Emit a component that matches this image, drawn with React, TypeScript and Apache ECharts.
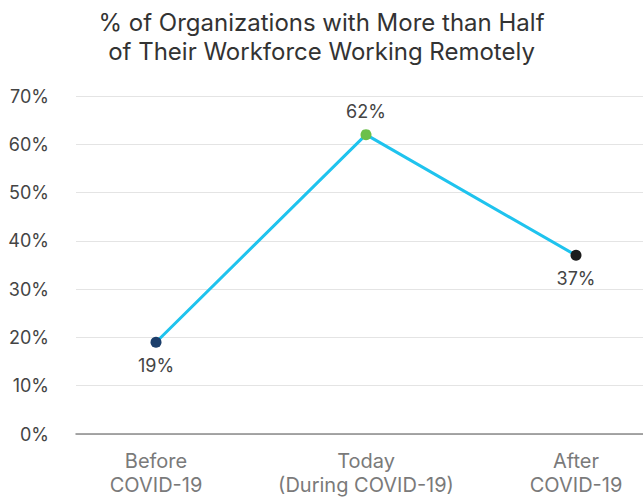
import React, { useEffect, useRef } from "react";
import * as echarts from "echarts";

const titleText = "% of Organizations with More than Half\nof Their Workforce Working Remotely";
const categories = ["Before\nCOVID-19", "Today\n(During COVID-19)", "After\nCOVID-19"];
const values = [19, 62, 37];
const pointColors = ["#1b3e6b", "#6cc04a", "#1c1c1c"];
const labelPositions = ["bottom", "top", "bottom"];
const yTicks = [0, 10, 20, 30, 40, 50, 60, 70];

export default function App() {
  const ref = useRef<HTMLDivElement>(null);
  useEffect(() => {
    if (!ref.current) return;
    const chart = echarts.init(ref.current, null, { renderer: "svg" });
    const font = "Inter, Roboto, sans-serif";
    chart.setOption({
      animation: false,
      backgroundColor: "#ffffff",
      title: {
        text: titleText,
        left: "center",
        top: 3,
        textStyle: {
          fontFamily: font,
          fontSize: 24,
          fontWeight: "normal",
          color: "#333333",
          lineHeight: 29,
        },
      },
      grid: { left: 76, right: 0, top: 96, bottom: 62 },
      xAxis: {
        type: "value",
        min: -0.381,
        max: 2.319,
        axisLine: { show: true, lineStyle: { color: "#8a8a8a", width: 1.5 } },
        axisTick: { show: false },
        splitLine: { show: false },
        axisLabel: {
          customValues: categories.map((_, i) => i),
          formatter: (v: number) => categories[Math.round(v)] ?? "",
          fontFamily: font,
          fontSize: 20,
          color: "#7a7a7a",
          lineHeight: 24,
          margin: 15,
        },
      },
      yAxis: {
        type: "value",
        min: 0,
        max: 70,
        interval: 10,
        axisLine: { show: false },
        axisTick: { show: false },
        splitLine: { lineStyle: { color: "#e4e4e4", width: 1 } },
        axisLabel: {
          formatter: (v: number) => (yTicks.includes(v) ? v + "%" : ""),
          fontFamily: font,
          fontSize: 18,
          color: "#444444",
          margin: 27,
        },
      },
      series: [
        {
          type: "line",
          data: values.map((v, i) => ({
            value: [i, v],
            itemStyle: { color: pointColors[i] },
            label: { position: labelPositions[i] },
          })),
          lineStyle: { color: "#1fc3ee", width: 3 },
          symbol: "circle",
          symbolSize: 11,
          label: {
            show: true,
            distance: 9,
            formatter: (p: any) => p.value[1] + "%",
            fontFamily: font,
            fontSize: 18,
            color: "#444444",
          },
        },
      ],
    });
    return () => chart.dispose();
  }, []);
  return (
    <div
      ref={ref}
      style={{ position: "fixed", left: 0, top: 0, width: 643, height: 497 }}
    />
  );
}
